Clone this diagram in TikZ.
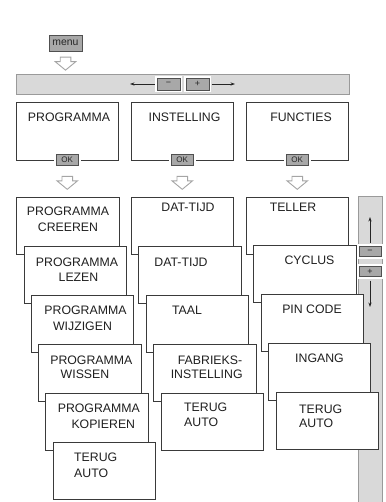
\documentclass[tikz,border=0pt]{standalone}
\usepackage{fontspec}
\setmainfont{Liberation Sans}
\usetikzlibrary{arrows.meta,calc}
\definecolor{barfill}{HTML}{D9D9D9}
\definecolor{barline}{HTML}{9A9A9A}
\definecolor{btnfill}{HTML}{A8A8A8}
\definecolor{btnline}{HTML}{505050}
\definecolor{boxline}{HTML}{3A3A3A}
\definecolor{arrline}{HTML}{A5A5A5}
\begin{document}
\begin{tikzpicture}[x=1pt,y=-1pt,
  lbl/.style={font=\fontsize{12.3}{16}\selectfont, inner sep=0pt, text=black!88, anchor=base},
  lblw/.style={lbl, anchor=base west},
  mbox/.style={draw=boxline, fill=white, line width=0.9pt, minimum width=102.5pt, minimum height=57pt, inner sep=0pt, outer sep=0pt, anchor=north west},
  topbox/.style={mbox, minimum height=58pt},
  btn/.style={draw=btnline, fill=btnfill, line width=0.8pt, inner sep=0pt, outer sep=0pt, text=black!85, preaction={draw=white, line width=4.5pt}},
  okbtn/.style={btn, minimum width=22pt, minimum height=11pt, font=\fontsize{8}{8}\selectfont},
  pmbtn/.style={btn, minimum width=23pt, minimum height=12pt, font=\fontsize{9}{9}\selectfont},
  sbtn/.style={btn, minimum width=22pt, minimum height=10pt, font=\fontsize{9}{9}\selectfont},
  panel/.style={draw=barline, fill=barfill, line width=0.8pt, inner sep=0pt, outer sep=0pt, anchor=north west},
  thinarr/.style={draw=black!85, line width=0.8pt, -{Stealth[length=4.5pt,width=3.2pt]}},
  pics/downarr/.style={code={\draw[draw=arrline, fill=white, line width=0.9pt, line join=miter]
     (-5.3,-6.5) -- (-5.3,-2) -- (-10.3,-2) -- (0,6.5) -- (10.3,-2) -- (5.3,-2) -- (5.3,-6.5) -- cycle;}}
]
\useasboundingbox (0,0) rectangle (385,502);

% menu button and top bar
\node[btn, minimum width=33pt, minimum height=16pt, font=\fontsize{10.4}{10}\selectfont] (menu) at (65.5,43) {menu};
\node[panel, minimum width=333pt, minimum height=20pt] (bar) at (16,74) {};
\pic at ($(menu.south)!0.55!(menu.south|-bar.north)$) {downarr};
\node[pmbtn] (bminus) at (168.5,84) {−};
\node[pmbtn] (bplus) at (197.5,84) {+};
\coordinate (bl) at (130,84);
\coordinate (br) at (235,84);
\draw[thinarr, shorten <=2.5pt] (bminus.west) -- (bl);
\draw[thinarr, shorten <=2.5pt] (bplus.east) -- (br);

% top row
\node[topbox] (t1) at (16,102) {};
\node[topbox] (t2) at (131,102) {};
\node[topbox] (t3) at (246,102) {};
\node[lbl] (t1l) at (69,121.4) {PROGRAMMA};
\node[lbl] (t2l) at (184.5,121.4) {INSTELLING};
\node[lbl] (t3l) at (301,121.4) {FUNCTIES};
\node[okbtn] (ok1) at (t1.south) {OK};
\node[okbtn] (ok2) at (t2.south) {OK};
\node[okbtn] (ok3) at (t3.south) {OK};

% scrollbar
\node[panel, minimum width=24pt, minimum height=312pt] (sb) at (358,196) {};
\node[sbtn] (sminus) at (370,251.7) {−};
\node[sbtn] (splus) at (370,271.7) {+};
\coordinate (sup) at (370,217);
\coordinate (sdown) at (370,307);
\draw[thinarr, shorten <=4pt] (sminus.north) -- (sup);
\draw[thinarr, shorten <=4pt] (splus.south) -- (sdown);

% column 1
\node[mbox] (c1a) at (16.5,197) {};
\node[lbl] (c1a1) at (68,215.1) {PROGRAMMA};
\node[lbl] (c1a2) at (68,231.1) {CREEREN};
\node[mbox] (c1b) at (24,246) {};
\node[lbl] (c1b1) at (77,266.1) {PROGRAMMA};
\node[lbl] (c1b2) at (78.5,281.1) {LEZEN};
\node[mbox] (c1c) at (31,295) {};
\node[lbl] (c1c1) at (85.5,314.4) {PROGRAMMA};
\node[lbl] (c1c2) at (82.5,330.1) {WIJZIGEN};
\node[mbox] (c1d) at (38.5,344) {};
\node[lbl] (c1d1) at (91.3,364.4) {PROGRAMMA};
\node[lbl] (c1d2) at (85,378.7) {WISSEN};
\node[mbox] (c1e) at (45.5,393) {};
\node[lbl] (c1e1) at (98.8,412.7) {PROGRAMMA};
\node[lbl] (c1e2) at (103.3,428.7) {KOPIEREN};
\node[mbox] (c1f) at (53,442) {};
\node[lblw] (c1f1) at (74,461.7) {TERUG};
\node[lblw] (c1f2) at (74,477.7) {AUTO};

% column 2
\node[mbox] (c2a) at (131,197) {};
\node[lbl] (c2a1) at (188,211.7) {DAT-TIJD};
\node[mbox] (c2b) at (138.5,246) {};
\node[lbl] (c2b1) at (181,266.1) {DAT-TIJD};
\node[mbox] (c2c) at (146,295) {};
\node[lbl] (c2c1) at (187,314.4) {TAAL};
\node[mbox] (c2d) at (153.5,344) {};
\node[lbl] (c2d1) at (210,364.4) {FABRIEKS-};
\node[lbl] (c2d2) at (206.7,378.7) {INSTELLING};
\node[mbox] (c2e) at (161,393) {};
\node[lblw] (c2e1) at (184,411.1) {TERUG};
\node[lblw] (c2e2) at (184,426.1) {AUTO};

% column 3
\node[mbox] (c3a) at (246,197) {};
\node[lbl] (c3a1) at (293,211.7) {TELLER};
\node[mbox] (c3b) at (253.5,245.5) {};
\node[lbl] (c3b1) at (309.5,264.4) {CYCLUS};
\node[mbox] (c3c) at (261,294) {};
\node[lbl] (c3c1) at (312,313.7) {PIN CODE};
\node[mbox] (c3d) at (268,343) {};
\node[lbl] (c3d1) at (319.5,362.7) {INGANG};
\node[mbox] (c3e) at (276,392) {};
\node[lblw] (c3e1) at (299,413.4) {TERUG};
\node[lblw] (c3e2) at (299,427.7) {AUTO};

% block arrows from OK buttons
\pic at ($(ok1.south)!0.55!(ok1.south|-c1a.north)$) {downarr};
\pic at ($(ok2.south)!0.55!(ok2.south|-c2a.north)$) {downarr};
\pic at ($(ok3.south)!0.55!(ok3.south|-c3a.north)$) {downarr};
\end{tikzpicture}
\end{document}
